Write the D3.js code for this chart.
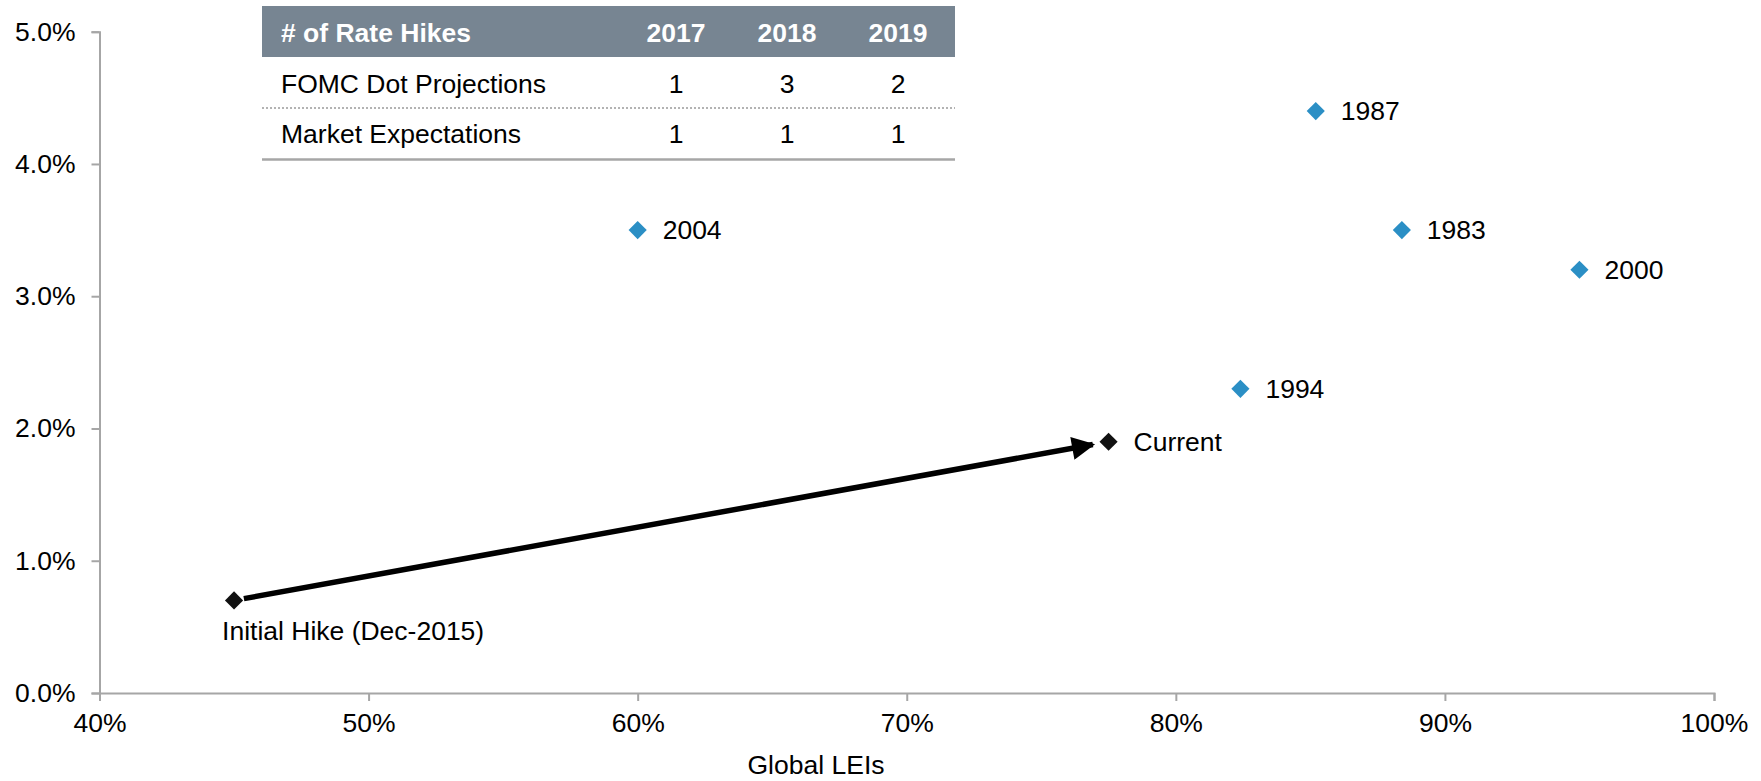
<!DOCTYPE html>
<html>
<head>
<meta charset="utf-8">
<script src="https://cdn.jsdelivr.net/npm/d3@7/dist/d3.min.js"></script>
<style>
  html, body { margin: 0; padding: 0; background: #fff; }
  svg { display: block; font-family: "Liberation Sans", Arial, sans-serif; }
</style>
</head>
<body>
<svg id="chart" width="1761" height="781"></svg>
<script>
// ---- Data ----
const cycleLabels = ["2004", "1987", "1983", "2000", "1994"];
const cycleLEI    = [0.600, 0.852, 0.884, 0.950, 0.824];
const cycleRate   = [0.035, 0.044, 0.035, 0.032, 0.023];

const pathLabels = ["Initial Hike (Dec-2015)", "Current"];
const pathLEI    = [0.45, 0.775];
const pathRate   = [0.007, 0.019];

const xTicks = [0.4, 0.5, 0.6, 0.7, 0.8, 0.9, 1.0];
const yTicks = [0.00, 0.01, 0.02, 0.03, 0.04, 0.05];

const tableHeader = ["# of Rate Hikes", "2017", "2018", "2019"];
const tableRowNames = ["FOMC Dot Projections", "Market Expectations"];
const fomcHikes = [1, 3, 2];
const marketHikes = [1, 1, 1];

// ---- Layout ----
const svg = d3.select("#chart");
const x = d3.scaleLinear().domain([0.4, 1.0]).range([99.5, 1714]);
const y = d3.scaleLinear().domain([0, 0.05]).range([693, 31.7]);
const axisColor = "#a6a6a6";
const fontSize = 26.5;

// Y axis
const yAxis = svg.append("g").attr("transform", `translate(${x(0.4)},0)`)
  .call(d3.axisLeft(y).tickValues(yTicks).tickFormat(d3.format(".1%")).tickSizeOuter(0).tickSize(8).tickPadding(16));
// X axis
const xAxis = svg.append("g").attr("transform", `translate(0,${y(0)})`)
  .call(d3.axisBottom(x).tickValues(xTicks).tickFormat(d3.format(".0%")).tickSizeOuter(0).tickSize(8).tickPadding(12));

[yAxis, xAxis].forEach(g => {
  g.select(".domain").attr("stroke", axisColor).attr("stroke-width", 2);
  g.selectAll(".tick line").attr("stroke", axisColor).attr("stroke-width", 2);
  g.selectAll(".tick text").attr("fill", "#000").style("font-size", fontSize + "px")
    .style("font-family", '"Liberation Sans", Arial, sans-serif');
});

// X axis title
svg.append("text").attr("x", 816).attr("y", 774).attr("text-anchor", "middle")
  .style("font-size", fontSize + "px").text("Global LEIs");

// ---- Arrow ----
const defs = svg.append("defs");
defs.append("marker").attr("id", "arrowhead")
  .attr("viewBox", "0 0 10 10").attr("refX", 9).attr("refY", 5)
  .attr("markerWidth", 5).attr("markerHeight", 4.2).attr("markerUnits", "strokeWidth")
  .attr("orient", "auto")
  .append("path").attr("d", "M0,0 L10,5 L0,10 Z").attr("fill", "#000");

const x1 = x(pathLEI[0]), y1 = y(pathRate[0]);
const x2 = x(pathLEI[1]), y2 = y(pathRate[1]);
const len = Math.hypot(x2 - x1, y2 - y1);
const ux = (x2 - x1) / len, uy = (y2 - y1) / len;
svg.append("line")
  .attr("x1", x1 + ux * 10).attr("y1", y1 + uy * 10)
  .attr("x2", x2 - ux * 16).attr("y2", y2 - uy * 16)
  .attr("stroke", "#000").attr("stroke-width", 5.5)
  .attr("marker-end", "url(#arrowhead)");

// ---- Points ----
const diamond = d3.symbol().type(d3.symbolDiamond2).size(210);

svg.selectAll(".cycle").data(cycleLabels).enter().append("path")
  .attr("d", diamond)
  .attr("transform", (d, i) => `translate(${x(cycleLEI[i])},${y(cycleRate[i])})`)
  .attr("fill", "#2B8FC5");

svg.selectAll(".cycleLabel").data(cycleLabels).enter().append("text")
  .attr("x", (d, i) => x(cycleLEI[i]) + 25)
  .attr("y", (d, i) => y(cycleRate[i]) + 9)
  .style("font-size", fontSize + "px").text(d => d);

svg.selectAll(".pathPt").data(pathLabels).enter().append("path")
  .attr("d", diamond)
  .attr("transform", (d, i) => `translate(${x(pathLEI[i])},${y(pathRate[i])})`)
  .attr("fill", "#111");

// Labels for path points
svg.append("text").attr("x", x(pathLEI[0]) - 12).attr("y", y(pathRate[0]) + 40)
  .style("font-size", fontSize + "px").text(pathLabels[0]);
svg.append("text").attr("x", x(pathLEI[1]) + 25).attr("y", y(pathRate[1]) + 9)
  .style("font-size", fontSize + "px").text(pathLabels[1]);

// ---- Table ----
const tLeft = 262, tRight = 955;
const colX = [281, 676, 787, 898];
const table = svg.append("g");
table.append("rect").attr("x", tLeft).attr("y", 6).attr("width", tRight - tLeft).attr("height", 51)
  .attr("fill", "#778592");
table.selectAll(".hdr").data(tableHeader).enter().append("text")
  .attr("x", (d, i) => colX[i]).attr("y", 42)
  .attr("text-anchor", (d, i) => i === 0 ? "start" : "middle")
  .attr("fill", "#fff").style("font-weight", "bold").style("font-size", fontSize + "px")
  .text(d => d);

const rows = [fomcHikes, marketHikes];
const rowY = [93, 143];
rows.forEach((vals, r) => {
  table.append("text").attr("x", colX[0]).attr("y", rowY[r])
    .style("font-size", fontSize + "px").text(tableRowNames[r]);
  vals.forEach((v, i) => {
    table.append("text").attr("x", colX[i + 1]).attr("y", rowY[r])
      .attr("text-anchor", "middle").style("font-size", fontSize + "px").text(v);
  });
});
table.append("line").attr("x1", tLeft).attr("x2", tRight).attr("y1", 108).attr("y2", 108)
  .attr("stroke", "#9a9a9a").attr("stroke-width", 1.5).attr("stroke-dasharray", "2,2");
table.append("line").attr("x1", tLeft).attr("x2", tRight).attr("y1", 159.5).attr("y2", 159.5)
  .attr("stroke", "#a6a6a6").attr("stroke-width", 2.5);
</script>
</body>
</html>
